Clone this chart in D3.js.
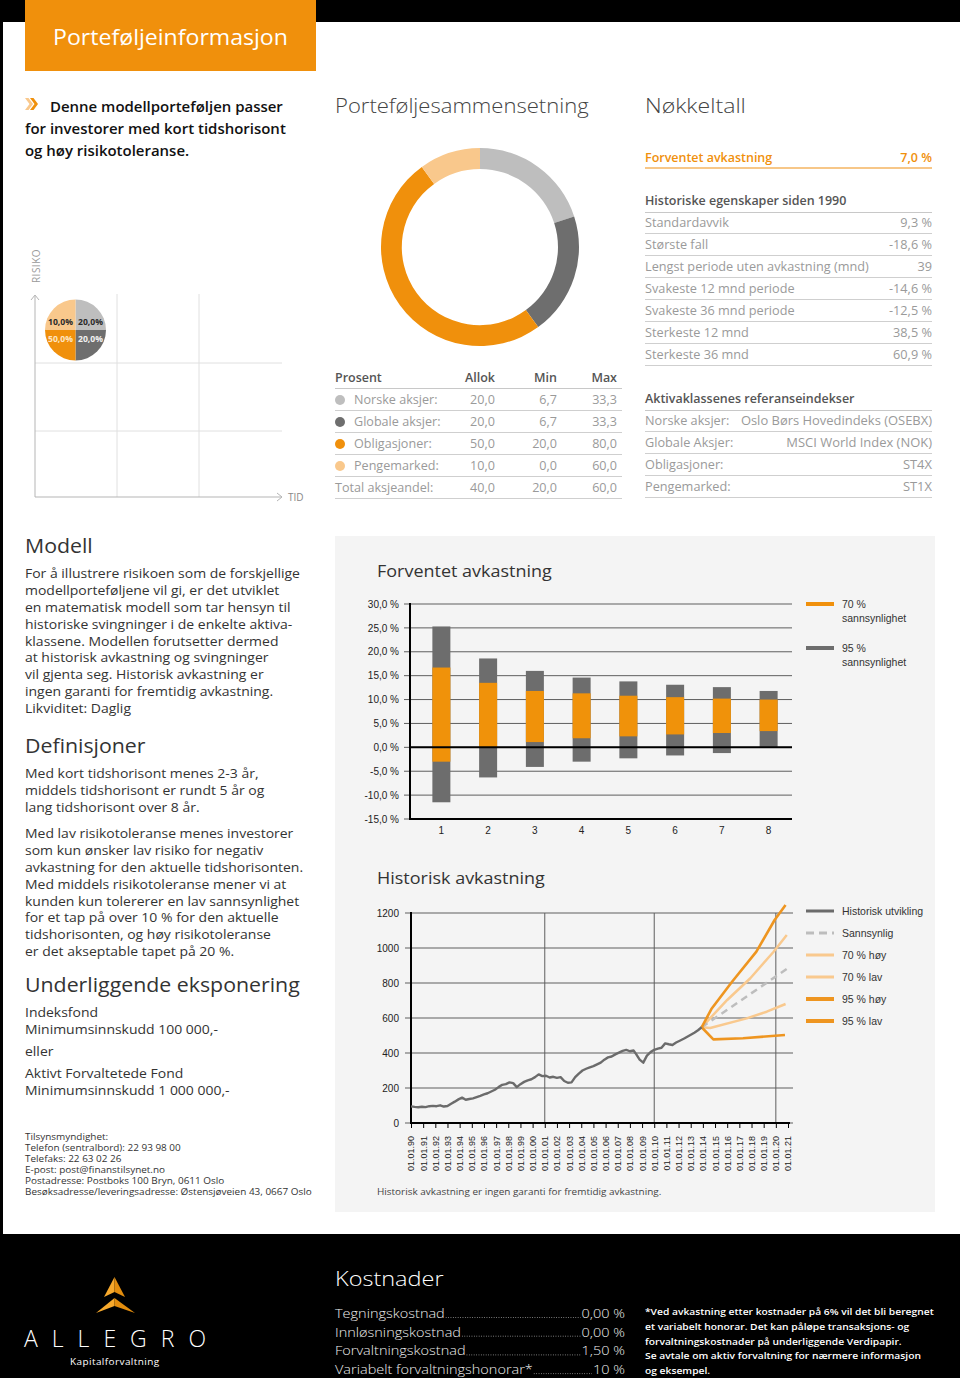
<!DOCTYPE html>
<html><head><meta charset="utf-8">
<script src="https://cdn.jsdelivr.net/npm/d3@7"></script>
<style>body{margin:0;background:#fff}svg{display:block}</style>
</head><body>
<svg id="page" width="960" height="1378"></svg>
<script>
// ---------------- DATA ----------------
const allocCategories = ["Norske aksjer:", "Globale aksjer:", "Obligasjoner:", "Pengemarked:"];
const allocValues = [20.0, 20.0, 50.0, 10.0];
const allocMin = [6.7, 6.7, 20.0, 0.0];
const allocMax = [33.3, 33.3, 80.0, 60.0];
const allocColors = ["#bebebe", "#6e6e6e", "#f0900c", "#f9c88c"];
const totalLabel = "Total aksjeandel:";
const totalValues = [40.0, 20.0, 60.0];
const tableHeaders = ["Prosent", "Allok", "Min", "Max"];

const keyLabel = "Forventet avkastning";
const keyValue = "7,0 %";
const histLabels = ["Standardavvik", "Største fall", "Lengst periode uten avkastning (mnd)", "Svakeste 12 mnd periode", "Svakeste 36 mnd periode", "Sterkeste 12 mnd", "Sterkeste 36 mnd"];
const histValues = ["9,3 %", "-18,6 %", "39", "-14,6 %", "-12,5 %", "38,5 %", "60,9 %"];
const refLabels = ["Norske aksjer:", "Globale Aksjer:", "Obligasjoner:", "Pengemarked:"];
const refIndexes = ["Oslo Børs Hovedindeks (OSEBX)", "MSCI World Index (NOK)", "ST4X", "ST1X"];

// Forventet avkastning (per horizon, %)
const horizons = [1, 2, 3, 4, 5, 6, 7, 8];
const high95 = [25.3, 18.6, 16.0, 14.6, 13.8, 13.1, 12.6, 11.8];
const high70 = [16.7, 13.5, 11.8, 11.3, 10.8, 10.5, 10.2, 10.0];
const low70 = [-3.0, 0.0, 1.1, 1.9, 2.3, 2.7, 3.0, 3.4];
const low95 = [-11.5, -6.3, -4.1, -3.0, -2.3, -1.7, -1.2, 0.0];
const barTicks = [30, 25, 20, 15, 10, 5, 0, -5, -10, -15];
const barLegend = [["70 %", "sannsynlighet"], ["95 %", "sannsynlighet"]];

// Historisk avkastning
const histYears = [1990.0,1990.3,1990.6,1990.9,1991.2,1991.5,1991.8,1992.1,1992.4,1992.7,1993.0,1993.3,1993.6,1993.9,1994.2,1994.5,1994.8,1995.1,1995.4,1995.7,1996.0,1996.3,1996.6,1996.9,1997.2,1997.5,1997.8,1998.1,1998.4,1998.7,1999.0,1999.3,1999.6,1999.9,2000.2,2000.5,2000.8,2001.1,2001.4,2001.7,2002.0,2002.3,2002.6,2002.9,2003.2,2003.5,2003.8,2004.1,2004.4,2004.7,2005.0,2005.3,2005.6,2005.9,2006.2,2006.5,2006.8,2007.1,2007.4,2007.7,2008.0,2008.3,2008.5,2008.8,2009.1,2009.4,2009.7,2010.0,2010.3,2010.6,2010.9,2011.2,2011.5,2011.8,2012.1,2012.5,2012.9,2013.3,2013.6,2013.9];
const histIndex = [95,92,90,93,91,96,98,96,101,94,97,110,122,135,145,133,137,141,148,155,163,170,180,190,205,218,222,232,228,205,222,235,244,250,262,278,268,270,260,264,258,262,240,230,232,262,282,300,310,318,325,335,345,362,375,380,392,402,412,418,410,414,395,362,345,385,405,418,425,430,455,450,446,460,470,484,500,516,530,547];
const projYears95High = [2013.9, 2014.7, 2016.4, 2018.4, 2019.9, 2020.8];
const proj95High = [547, 651, 807, 979, 1160, 1246];
const projYears70High = [2013.9, 2016.0, 2017.9, 2019.8, 2020.9];
const proj70High = [547, 703, 827, 977, 1074];
const projYearsLikely = [2013.9, 2020.9];
const projLikely = [547, 880];
const projYears70Low = [2013.9, 2014.6, 2017.6, 2019.25, 2020.8];
const proj70Low = [547, 543, 598, 636, 680];
const projYears95Low = [2013.9, 2014.86, 2017.3, 2020.75];
const proj95Low = [547, 478, 484, 503];
const lineTicks = [1200, 1000, 800, 600, 400, 200, 0];
const dateTicks = d3.range(1990, 2022);
const lineLegend = ["Historisk utvikling", "Sannsynlig", "70 % høy", "70 % lav", "95 % høy", "95 % lav"];

const costLabels = ["Tegningskostnad", "Innløsningskostnad", "Forvaltningskostnad", "Variabelt forvaltningshonorar*"];
const costValues = ["0,00 %", "0,00 %", "1,50 %", "10 %"];

// ---------------- HELPERS ----------------
const FS = "'Open Sans', 'DejaVu Sans', sans-serif";
const FA = "'Liberation Sans', Arial, sans-serif";
const ORANGE = "#f0900c";
const svg = d3.select("#page");
const locale = d3.formatLocale({decimal: ",", thousands: " ", grouping: [3], currency: ["", " kr"], minus: "-"});
const f1 = locale.format(".1f");

function T(g, x, y, s, o = {}) {
  const t = g.append("text").attr("x", x).attr("y", y).text(s)
    .attr("font-family", o.ff || FS).attr("font-size", o.fs || 12)
    .attr("font-weight", o.fw || 400).attr("fill", o.c || "#333");
  if (o.a) t.attr("text-anchor", o.a);
  if (o.ls) t.attr("letter-spacing", o.ls);
  if (o.sx) t.attr("transform", `translate(${x},0) scale(${o.sx},1) translate(${-x},0)`);
  return t;
}
function L(g, x1, y1, x2, y2, c, w) {
  return g.append("line").attr("x1", x1).attr("y1", y1).attr("x2", x2).attr("y2", y2)
    .attr("stroke", c).attr("stroke-width", w || 1);
}

// ---------------- PAGE FRAME ----------------
svg.append("rect").attr("width", 960).attr("height", 1378).attr("fill", "#fff");
svg.append("rect").attr("width", 960).attr("height", 22).attr("fill", "#000");
svg.append("rect").attr("width", 3).attr("height", 1378).attr("fill", "#000");
svg.append("rect").attr("y", 1234).attr("width", 960).attr("height", 144).attr("fill", "#000");

// header tab
svg.append("rect").attr("x", 25).attr("y", 0).attr("width", 291).attr("height", 71).attr("fill", ORANGE);
T(svg, 170.5, 45, "Porteføljeinformasjon", {fs: 21, fw: 500, c: "#fff", a: "middle", sx: 1.1});

// intro
svg.append("polygon").attr("points", "25,98 28.5,98 33,104 28.5,110 25,110 29.5,104").attr("fill", "#f9c88c");
svg.append("polygon").attr("points", "30,98 33.5,98 38,104 33.5,110 30,110 34.5,104").attr("fill", ORANGE);
const introStyle = {fs: 14.2, fw: 600, c: "#111", sx: 1.055};
T(svg, 50, 112, "Denne modellporteføljen passer", introStyle);
T(svg, 25, 134, "for investorer med kort tidshorisont", introStyle);
T(svg, 25, 156, "og høy risikotoleranse.", introStyle);

// ---------------- RISK MATRIX ----------------
{
  const g = svg.append("g");
  [117, 199].forEach(x => L(g, x, 294, x, 497, "#e0e0e0"));
  [363, 431].forEach(y => L(g, 35, y, 282, y, "#e0e0e0"));
  L(g, 35, 296, 35, 497, "#b5b5b5");
  L(g, 35, 497, 282, 497, "#b5b5b5");
  g.append("polyline").attr("points", "31,300 35,295 39,300").attr("fill", "none").attr("stroke", "#b5b5b5");
  g.append("polyline").attr("points", "277,493 282,497 277,501").attr("fill", "none").attr("stroke", "#b5b5b5");
  T(g, 0, 0, "RISIKO", {fs: 10, c: "#999", a: "middle", ls: 0.5}).attr("transform", "translate(39.5,266) rotate(-90)");
  T(g, 288, 501, "TID", {fs: 10, c: "#888"});
  const pie = d3.pie().sort(null).value(() => 1)(allocValues);
  const arc = d3.arc().innerRadius(0).outerRadius(30.5);
  const pg = g.append("g").attr("transform", "translate(75.5,330)");
  pg.selectAll("path").data(pie).join("path").attr("d", arc).attr("fill", (d, i) => allocColors[i]);
  const labelPos = [[15, -5], [15, 12], [-15, 12], [-15, -5]];
  const labelCol = ["#2a2a2a", "#f2f2f2", "#fde6c4", "#2a2a2a"];
  allocValues.forEach((v, i) => {
    T(pg, labelPos[i][0], labelPos[i][1], f1(v) + "%", {fs: 8.6, fw: 700, c: labelCol[i], a: "middle"});
  });
}

// ---------------- DONUT + TABLE ----------------
{
  T(svg, 335, 113, "Porteføljesammensetning", {fs: 21, fw: 300, c: "#444", sx: 1.05});
  const g = svg.append("g").attr("transform", "translate(480,247)");
  const pie = d3.pie().sort(null)(allocValues);
  const arc = d3.arc().innerRadius(78).outerRadius(99);
  g.selectAll("path").data(pie).join("path").attr("d", arc).attr("fill", (d, i) => allocColors[i]);

  const t = svg.append("g");
  const colX = [335, 495, 557, 617];
  const S = {fs: 12, c: "#9a9a9a", sx: 1.05};
  const HS = {fs: 12, fw: 600, c: "#555", sx: 1.04};
  T(t, colX[0], 382, tableHeaders[0], HS);
  tableHeaders.slice(1).forEach((h, i) => T(t, colX[i + 1], 382, h, {...HS, a: "end"}));
  L(t, 335, 388.5, 622, 388.5, "#c8c8c8");
  allocCategories.forEach((c, i) => {
    const y = 404 + i * 22;
    t.append("circle").attr("cx", 340).attr("cy", y - 4).attr("r", 5).attr("fill", allocColors[i]);
    T(t, 354, y, c, S);
    [allocValues[i], allocMin[i], allocMax[i]].forEach((v, j) => T(t, colX[j + 1], y, f1(v), {...S, a: "end"}));
    L(t, 335, y + 6.5, 622, y + 6.5, "#cfcfcf");
  });
  T(t, 335, 492, totalLabel, S);
  totalValues.forEach((v, j) => T(t, colX[j + 1], 492, f1(v), {...S, a: "end"}));
  L(t, 335, 498.5, 622, 498.5, "#cfcfcf");
}

// ---------------- NØKKELTALL ----------------
{
  const g = svg.append("g");
  const S = {fs: 12, c: "#9a9a9a", sx: 1.06};
  const HS = {fs: 12, fw: 600, c: "#555", sx: 1.04};
  T(g, 645, 113, "Nøkkeltall", {fs: 21, fw: 300, c: "#444", sx: 1.1});
  T(g, 645, 162, keyLabel, {fs: 12, fw: 600, c: ORANGE, sx: 1.04});
  T(g, 932, 162, keyValue, {fs: 12, fw: 600, c: ORANGE, a: "end", sx: 1.04});
  L(g, 645, 168, 932, 168, "#f5b560", 1.5);
  T(g, 645, 205, "Historiske egenskaper siden 1990", HS);
  L(g, 645, 212.5, 932, 212.5, "#c8c8c8");
  histLabels.forEach((lab, i) => {
    const y = 227 + i * 22;
    T(g, 645, y, lab, S);
    T(g, 932, y, histValues[i], {...S, a: "end"});
    L(g, 645, y + 6.5, 932, y + 6.5, "#cfcfcf");
  });
  T(g, 645, 403, "Aktivaklassenes referanseindekser", HS);
  L(g, 645, 410.5, 932, 410.5, "#c8c8c8");
  refLabels.forEach((lab, i) => {
    const y = 425 + i * 22;
    T(g, 645, y, lab, S);
    T(g, 932, y, refIndexes[i], {...S, a: "end", sx: 1.08});
    L(g, 645, y + 6.5, 932, y + 6.5, "#cfcfcf");
  });
}

// ---------------- LEFT TEXT COLUMN ----------------
{
  const g = svg.append("g");
  const H = {fs: 20.5, fw: 400, c: "#333", sx: 1.04};
  const B = {fs: 12.9, fw: 400, c: "#333", sx: 1.085};
  T(g, 25, 553, "Modell", H);
  ["For å illustrere risikoen som de forskjellige", "modellporteføljene vil gi, er det utviklet", "en matematisk modell som tar hensyn til",
   "historiske svingninger i de enkelte aktiva-", "klassene. Modellen forutsetter dermed", "at historisk avkastning og svingninger",
   "vil gjenta seg. Historisk avkastning er", "ingen garanti for fremtidig avkastning.", "Likviditet: Daglig"]
    .forEach((s, i) => T(g, 25, 578 + i * 16.9, s, B));
  T(g, 25, 753, "Definisjoner", H);
  ["Med kort tidshorisont menes 2-3 år,", "middels tidshorisont er rundt 5 år og", "lang tidshorisont over 8 år."]
    .forEach((s, i) => T(g, 25, 778 + i * 17, s, B));
  ["Med lav risikotoleranse menes investorer", "som kun ønsker lav risiko for negativ", "avkastning for den aktuelle tidshorisonten.",
   "Med middels risikotoleranse mener vi at", "kunden kun tolererer en lav sannsynlighet", "for et tap på over 10 % for den aktuelle",
   "tidshorisonten, og høy risikotoleranse", "er det akseptable tapet på 20 %."]
    .forEach((s, i) => T(g, 25, 838 + i * 16.9, s, B));
  T(g, 25, 992, "Underliggende eksponering", H);
  T(g, 25, 1017, "Indeksfond", B);
  T(g, 25, 1034, "Minimumsinnskudd 100 000,-", B);
  T(g, 25, 1056, "eller", B);
  T(g, 25, 1078, "Aktivt Forvaltetede Fond", B);
  T(g, 25, 1095, "Minimumsinnskudd 1 000 000,-", B);
  ["Tilsynsmyndighet:", "Telefon (sentralbord): 22 93 98 00", "Telefaks: 22 63 02 26", "E-post: post@finanstilsynet.no",
   "Postadresse: Postboks 100 Bryn, 0611 Oslo", "Besøksadresse/leveringsadresse: Østensjøveien 43, 0667 Oslo"]
    .forEach((s, i) => T(g, 25, 1140 + i * 11, s, {fs: 9.3, c: "#333", sx: 1.07}));
}

// ---------------- GRAY PANEL ----------------
svg.append("rect").attr("x", 335).attr("y", 536).attr("width", 600).attr("height", 676).attr("fill", "#f4f4f4");

// ---------------- BAR CHART ----------------
{
  const g = svg.append("g");
  T(g, 377, 577, "Forventet avkastning", {fs: 16.5, c: "#333", sx: 1.09});
  const x = d3.scaleBand().domain(horizons).range([418, 792]);
  const y = d3.scaleLinear().domain([-15, 30]).range([819, 604]);
  g.selectAll("line.grid").data(barTicks).join("line").attr("class", "grid")
    .attr("x1", 404).attr("x2", 792).attr("y1", d => y(d)).attr("y2", d => y(d))
    .attr("stroke", "#5e5e5e").attr("stroke-width", 1);
  const ya = g.append("g").attr("transform", "translate(405,0)")
    .call(d3.axisLeft(y).tickValues(barTicks).tickSize(0).tickPadding(6).tickFormat(d => f1(d) + " %"));
  ya.select(".domain").remove();
  ya.selectAll("text").attr("font-family", FA).attr("font-size", 10).attr("fill", "#222");
  const bw = 18;
  g.selectAll("rect.b95").data(horizons).join("rect").attr("class", "b95")
    .attr("x", d => x(d) + x.bandwidth() / 2 - bw / 2).attr("width", bw)
    .attr("y", (d, i) => y(high95[i])).attr("height", (d, i) => y(low95[i]) - y(high95[i]))
    .attr("fill", "#6d6d6d");
  g.selectAll("rect.b70").data(horizons).join("rect").attr("class", "b70")
    .attr("x", d => x(d) + x.bandwidth() / 2 - bw / 2).attr("width", bw)
    .attr("y", (d, i) => y(high70[i])).attr("height", (d, i) => y(low70[i]) - y(high70[i]))
    .attr("fill", "#f0920a");
  L(g, 410, y(0), 792, y(0), "#000", 2);
  L(g, 410, 603, 410, 820, "#000", 2);
  L(g, 409, y(-15), 792, y(-15), "#000", 2);
  const xa = g.append("g").attr("transform", `translate(0,${y(-15) + 2})`)
    .call(d3.axisBottom(x).tickSize(0).tickPadding(6));
  xa.select(".domain").remove();
  xa.selectAll("text").attr("font-family", FA).attr("font-size", 10).attr("fill", "#222");
  const lc = [ORANGE, "#6d6d6d"];
  barLegend.forEach((lab, i) => {
    const yy = 604 + i * 44;
    L(g, 806, yy, 834, yy, lc[i], 4);
    T(g, 842, yy + 4, lab[0], {ff: FA, fs: 10.5, c: "#333"});
    T(g, 842, yy + 18, lab[1], {ff: FA, fs: 10.5, c: "#333"});
  });
}

// ---------------- LINE CHART ----------------
{
  const g = svg.append("g");
  T(g, 377, 884, "Historisk avkastning", {fs: 16.5, c: "#333", sx: 1.09});
  const x = d3.scaleLinear().domain([1990, 2021]).range([411, 788]);
  const y = d3.scaleLinear().domain([0, 1200]).range([1123, 913]);
  g.selectAll("line.grid").data(lineTicks).join("line").attr("class", "grid")
    .attr("x1", 405).attr("x2", 793).attr("y1", d => y(d)).attr("y2", d => y(d))
    .attr("stroke", "#5e5e5e").attr("stroke-width", 1);
  [2001, 2010, 2020].forEach(yr => L(g, x(yr), 913, x(yr), 1123, "#5e5e5e", 1));
  const ya = g.append("g").attr("transform", "translate(405,0)")
    .call(d3.axisLeft(y).tickValues(lineTicks).tickSize(0).tickPadding(6).tickFormat(d => String(d)));
  ya.select(".domain").remove();
  ya.selectAll("text").attr("font-family", FA).attr("font-size", 10).attr("fill", "#222");
  const xa = g.append("g").attr("transform", "translate(0,1123)")
    .call(d3.axisBottom(x).tickValues(dateTicks).tickSize(5).tickFormat(d => "01.01." + String(d).slice(2)));
  xa.select(".domain").remove();
  xa.selectAll("line").attr("stroke", "#000");
  xa.selectAll("text").attr("font-family", FA).attr("font-size", 9).attr("fill", "#222")
    .attr("text-anchor", "end").attr("transform", "rotate(-90)").attr("x", -13).attr("y", 0).attr("dy", "0.33em");
  L(g, 411, 912, 411, 1124, "#000", 2);
  L(g, 410, 1123, 790, 1123, "#000", 2);

  const line = d3.line().x(d => x(d[0])).y(d => y(d[1]));
  const zip = (a, b) => a.map((v, i) => [v, b[i]]);
  const series = [
    {d: zip(projYears70High, proj70High), c: "#f9c98e", w: 2.5},
    {d: zip(projYears70Low, proj70Low), c: "#f9c98e", w: 2.5},
    {d: zip(projYearsLikely, projLikely), c: "#bdbdbd", w: 2.5, dash: "7,5"},
    {d: zip(projYears95High, proj95High), c: "#ee9520", w: 2.6},
    {d: zip(projYears95Low, proj95Low), c: "#ee9520", w: 2.6},
    {d: zip(histYears, histIndex), c: "#6b6b6b", w: 2.4}
  ];
  series.forEach(s => g.append("path").attr("d", line(s.d)).attr("fill", "none")
    .attr("stroke", s.c).attr("stroke-width", s.w).attr("stroke-linejoin", "round")
    .attr("stroke-dasharray", s.dash || null));

  const legStyle = [
    {c: "#6b6b6b", w: 3}, {c: "#bdbdbd", w: 3, dash: "8,5"}, {c: "#f9c98e", w: 3},
    {c: "#f9c98e", w: 3}, {c: "#ee9520", w: 4}, {c: "#ee9520", w: 4}];
  lineLegend.forEach((lab, i) => {
    const yy = 911 + i * 22;
    L(g, 806, yy, 834, yy, legStyle[i].c, legStyle[i].w).attr("stroke-dasharray", legStyle[i].dash || null);
    T(g, 842, yy + 4, lab, {ff: FA, fs: 10.5, c: "#333"});
  });
  T(g, 377, 1195, "Historisk avkastning er ingen garanti for fremtidig avkastning.", {fs: 9.3, c: "#444", sx: 1.07});
}

// ---------------- FOOTER ----------------
{
  const g = svg.append("g");
  g.append("polygon").attr("points", "114.5,1277 104,1297 114.5,1292").attr("fill", "#f7a92c");
  g.append("polygon").attr("points", "114.5,1277 125,1297 114.5,1292").attr("fill", "#e38d0e");
  g.append("polygon").attr("points", "114.5,1298 96,1313 114.5,1306").attr("fill", "#f7a92c");
  g.append("polygon").attr("points", "114.5,1298 135,1313 114.5,1306").attr("fill", "#e38d0e");
  T(g, 24, 1347, "ALLEGRO", {fs: 23, fw: 300, c: "#fff", ls: 14});
  T(g, 70, 1365, "Kapitalforvaltning", {fs: 9.5, fw: 400, c: "#fff", ls: 0.4, sx: 1.05});

  T(g, 335, 1286, "Kostnader", {fs: 21, fw: 300, c: "#fff", sx: 1.12});
  costLabels.forEach((lab, i) => {
    const yy = 1318 + i * 18.7;
    const sx = 1.075;
    const t = T(g, 335, yy, lab, {fs: 13.5, fw: 300, c: "#eee", sx});
    const v = T(g, 625, yy, costValues[i], {fs: 13.5, fw: 300, c: "#eee", a: "end", sx});
    const x1 = 335 + t.node().getComputedTextLength() * sx + 1;
    const x2 = 625 - v.node().getComputedTextLength() * sx - 1;
    L(g, x1, yy - 0.5, x2, yy - 0.5, "#bbb", 0.8).attr("stroke-dasharray", "0.8,1.6");
  });
  ["*Ved avkastning etter kostnader på 6% vil det bli beregnet", "et variabelt honorar. Det kan påløpe transaksjons- og",
   "forvaltningskostnader på underliggende Verdipapir.", "Se avtale om aktiv forvaltning for nærmere informasjon", "og eksempel."]
    .forEach((s, i) => T(g, 645, 1315 + i * 14.8, s, {fs: 9.6, fw: 600, c: "#fff", sx: 1.07}));
}
</script>
</body></html>
